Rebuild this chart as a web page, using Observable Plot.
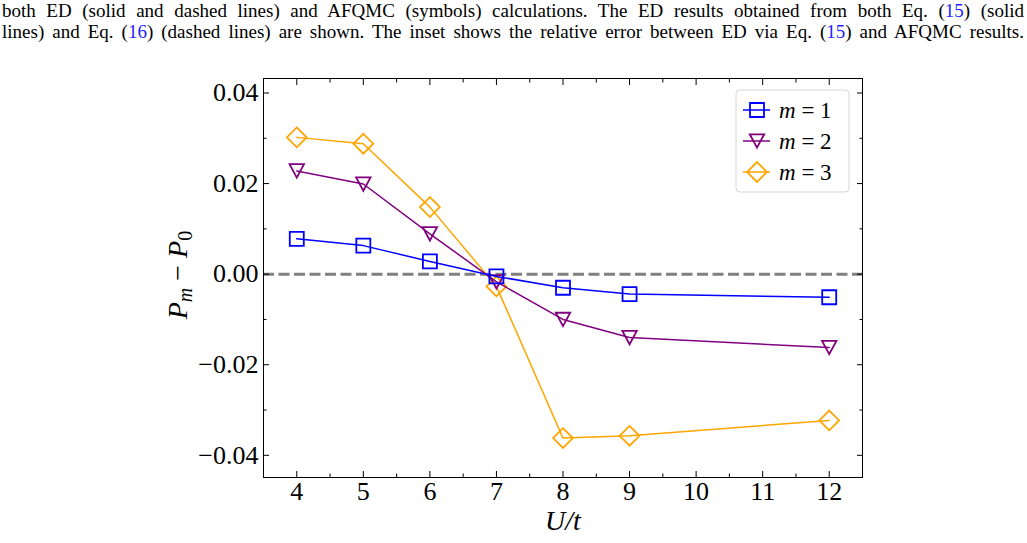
<!DOCTYPE html>
<html>
<head>
<meta charset="utf-8">
<script src="https://cdn.jsdelivr.net/npm/d3@7"></script>
<script src="https://cdn.jsdelivr.net/npm/@observablehq/plot@0.6"></script>
<style>
  html, body { margin: 0; padding: 0; background: #fff; overflow: hidden; }
  #cap { font-family: "Liberation Serif", "DejaVu Serif", serif; font-size: 19px; line-height: 21px;
         width: 1022px; margin-left: 2px; height: 45px; color: #000; }
  #cap .ln { text-align: justify; text-align-last: justify; white-space: normal; }
  #cap .ref { color: #1f1fff; }
  #chart svg { display: block; }
</style>
</head>
<body>
<div id="cap">
  <div class="ln">both ED (solid and dashed lines) and AFQMC (symbols) calculations. The ED results obtained from both Eq. (<span class="ref">15</span>) (solid</div>
  <div class="ln">lines) and Eq. (<span class="ref">16</span>) (dashed lines) are shown. The inset shows the relative error between ED via Eq. (<span class="ref">15</span>) and AFQMC results.</div>
</div>
<div id="chart"></div>
<script>
// ---- data ----
const U  = [4, 5, 6, 7, 8, 9, 12];
const m1 = [0.0078, 0.0063, 0.0028, -0.0005, -0.0030, -0.0044, -0.0051];
const m2 = [0.0228, 0.0199, 0.0089, -0.0017, -0.0100, -0.0140, -0.0162];
const m3 = [0.0302, 0.0288, 0.0148, -0.0027, -0.0362, -0.0357, -0.0323];
const seriesNames = ["1", "2", "3"];

const xTicks = [4, 5, 6, 7, 8, 9, 10, 11, 12];
const xMinorTicks = [4.5, 5.5, 6.5, 7.5, 8.5, 9.5, 10.5, 11.5];
const yTicks = [-0.04, -0.02, 0, 0.02, 0.04];
const yTickLabels = ["\u22120.04", "\u22120.02", "0.00", "0.02", "0.04"];
const yMinorTicks = [-0.03, -0.01, 0.01, 0.03];

// ---- marker shapes (matplotlib-like) ----
const symSquare = { draw(ctx, size) { const h = Math.sqrt(size / Math.PI);
  ctx.moveTo(-h, -h); ctx.lineTo(h, -h); ctx.lineTo(h, h); ctx.lineTo(-h, h); ctx.closePath(); } };
const symTriDown = { draw(ctx, size) { const h = Math.sqrt(size / Math.PI) * 1.03; const v = h * 0.93;
  ctx.moveTo(-h, -v); ctx.lineTo(h, -v); ctx.lineTo(0, v); ctx.closePath(); } };
const symDiamond = { draw(ctx, size) { const h = Math.sqrt(size / Math.PI) * 1.414;
  ctx.moveTo(0, -h); ctx.lineTo(h, 0); ctx.lineTo(0, h); ctx.lineTo(-h, 0); ctx.closePath(); } };

const seriesValues = [m1, m2, m3];
const seriesStyle = [
  { color: "#0000ff", symbol: symSquare },
  { color: "#800080", symbol: symTriDown },
  { color: "#ffa500", symbol: symDiamond }
];
const rows = seriesNames.map((name, i) => U.map((u, j) => ({ series: name, U: u, v: seriesValues[i][j] })));

const R = 7;
const serif = "Liberation Serif, DejaVu Serif, serif";

const seriesMarks = [];
for (const i of [2, 1, 0]) {
  seriesMarks.push(
    Plot.line(rows[i], { x: "U", y: "v", stroke: seriesStyle[i].color, strokeWidth: 1.5 }),
    Plot.dot(rows[i], { x: "U", y: "v", r: R, symbol: seriesStyle[i].symbol, stroke: seriesStyle[i].color, fill: "none", strokeWidth: 1.8 })
  );
}

const noText = () => "";
const chart = Plot.plot({
  width: 1027, height: 498,
  marginTop: 33, marginBottom: 66, marginLeft: 263, marginRight: 165,
  style: { fontFamily: serif, fontSize: "26px", background: "#fff", color: "#000", overflow: "visible" },
  x: { domain: [3.5, 12.5] },
  y: { domain: [-0.0449, 0.0432] },
  marks: [
    Plot.ruleY([0], { stroke: "#808080", strokeWidth: 3, strokeDasharray: "11,4.5" }),
    ...seriesMarks,
    Plot.frame({ stroke: "#000", strokeWidth: 1 }),
    // bottom axis
    Plot.axisX({ anchor: "bottom", ticks: xTicks, tickSize: 0, tickPadding: 4, label: null, fontSize: 26 }),
    Plot.axisX({ anchor: "bottom", ticks: xTicks, tickSize: -6, tickFormat: noText, label: null }),
    Plot.axisX({ anchor: "bottom", ticks: xMinorTicks, tickSize: -3.5, tickFormat: noText, label: null }),
    // top axis
    Plot.axisX({ anchor: "top", ticks: xTicks, tickSize: -6, tickFormat: noText, label: null }),
    Plot.axisX({ anchor: "top", ticks: xMinorTicks, tickSize: -3.5, tickFormat: noText, label: null }),
    // left axis
    Plot.axisY({ anchor: "left", ticks: yTicks, tickSize: 0, tickPadding: 5, label: null, fontSize: 26,
                 tickFormat: d => yTickLabels[yTicks.indexOf(d)] }),
    Plot.axisY({ anchor: "left", ticks: yTicks, tickSize: -6, tickFormat: noText, label: null }),
    Plot.axisY({ anchor: "left", ticks: yMinorTicks, tickSize: -3.5, tickFormat: noText, label: null }),
    // right axis
    Plot.axisY({ anchor: "right", ticks: yTicks, tickSize: -6, tickFormat: noText, label: null }),
    Plot.axisY({ anchor: "right", ticks: yMinorTicks, tickSize: -3.5, tickFormat: noText, label: null })
  ]
});

const svg = d3.select(chart);

// x axis label
svg.append("text")
  .attr("x", 563).attr("y", 485)
  .attr("text-anchor", "middle")
  .attr("font-family", serif).attr("font-size", 28).attr("font-style", "italic")
  .attr("fill", "#000")
  .text("U/t");

// y axis label  P_m − P_0
const yl = svg.append("text")
  .attr("transform", "translate(187,230) rotate(-90)")
  .attr("text-anchor", "middle")
  .attr("font-family", serif).attr("font-size", 28).attr("fill", "#000")
  .style("white-space", "pre");
yl.append("tspan").attr("font-style", "italic").text("P");
yl.append("tspan").attr("font-style", "italic").attr("font-size", 20).attr("dy", 5).text("m");
yl.append("tspan").attr("dy", -5).text(" \u2212 ");
yl.append("tspan").attr("font-style", "italic").text("P");
yl.append("tspan").attr("font-size", 20).attr("dy", 5).text("0");

// legend
const lg = svg.append("g");
lg.append("rect").attr("x", 736).attr("y", 45).attr("width", 113).attr("height", 102)
  .attr("rx", 4).attr("fill", "#fff").attr("fill-opacity", 0.85).attr("stroke", "#d6d6d6").attr("stroke-width", 1);
seriesNames.forEach((name, i) => {
  const cy = 65 + i * 31;
  const st = seriesStyle[i];
  lg.append("line").attr("x1", 743).attr("x2", 770).attr("y1", cy).attr("y2", cy)
    .attr("stroke", st.color).attr("stroke-width", 1.5);
  lg.append("path").attr("transform", `translate(757,${cy})`)
    .attr("d", d3.symbol().type(st.symbol).size(Math.PI * R * R)())
    .attr("fill", "none").attr("stroke", st.color).attr("stroke-width", 1.8);
  const t = lg.append("text").attr("x", 779).attr("y", cy + 7.5)
    .attr("text-anchor", "start")
    .attr("font-family", serif).attr("font-size", 23).attr("fill", "#000")
    .style("white-space", "pre");
  t.append("tspan").attr("font-style", "italic").text("m");
  t.append("tspan").text(" = " + name);
});

document.getElementById("chart").appendChild(chart);
</script>
</body>
</html>
